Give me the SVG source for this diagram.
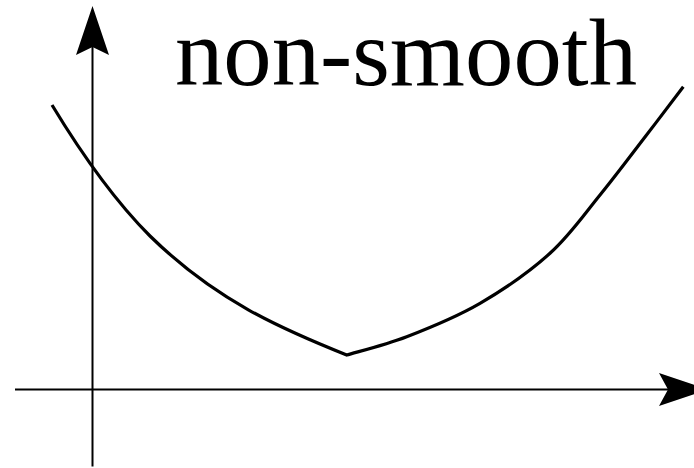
<svg xmlns="http://www.w3.org/2000/svg" width="694" height="468" viewBox="0 0 694 468">
  <style>
    .axis { stroke: #000; stroke-width: 2; fill: none; }
    .head { fill: #000; stroke: none; }
    .curve { stroke: #000; stroke-width: 3.2; fill: none; stroke-linejoin: miter; stroke-linecap: butt; }
    .label { font-family: "Liberation Serif", "Times New Roman", serif; font-size: 95px; fill: #000; }
  </style>
  <rect width="694" height="468" fill="#fff"/>
  <g id="axes">
    <line class="axis" x1="15" y1="389.5" x2="668" y2="389.5"/>
    <line class="axis" x1="92.5" y1="466.5" x2="92.5" y2="47"/>
    <path class="head" d="M708,389.5 L659,373 L668,389.5 L659,406 Z"/>
    <path class="head" d="M92.5,6 L76,55 L92.5,47 L109,55 Z"/>
  </g>
  <g id="curve">
    <path class="curve" d="M52,105 C84.7,159 117.3,203.3 150,236 C215.6,300.3 281.1,328.8 346.7,355 C356.7,351.95 384.5,345.3 406.7,336.7 C428.9,328.1 456.1,317.2 480,303.3 C503.9,289.4 530,271.35 550,253.3 C570,235.25 584.2,214.4 600,195 C615.8,175.6 631.1,155.05 645,137 C658.9,118.95 676.9,95.1 683.3,86.7"/>
  </g>
  <g id="title">
    <text class="label" x="175" y="85" textLength="462" lengthAdjust="spacingAndGlyphs">non-smooth</text>
  </g>
</svg>
